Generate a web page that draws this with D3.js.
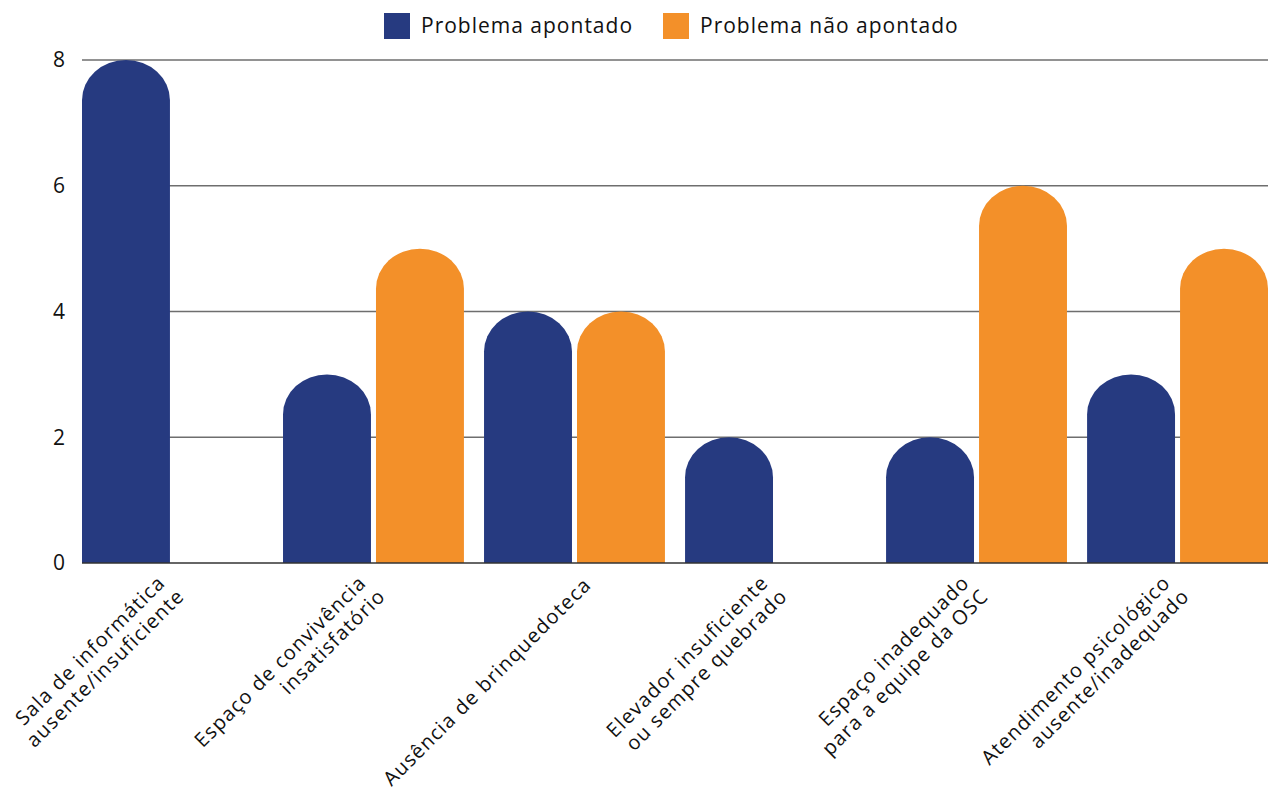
<!DOCTYPE html>
<html>
<head>
<meta charset="utf-8">
<script src="https://cdn.jsdelivr.net/npm/d3@7"></script>
<style>
  html, body { margin: 0; padding: 0; background: #ffffff; }
  svg { display: block; font-family: "Open Sans", "Noto Sans", sans-serif; }
</style>
</head>
<body>
<svg id="chart" width="1269" height="794"></svg>
<script>
const categories = [
  ["Sala de informática", "ausente/insuficiente"],
  ["Espaço de convivência", "insatisfatório"],
  ["Ausência de brinquedoteca"],
  ["Elevador insuficiente", "ou sempre quebrado"],
  ["Espaço inadequado", "para a equipe da OSC"],
  ["Atendimento psicológico", "ausente/inadequado"]
];
const seriesNames = ["Problema apontado", "Problema não apontado"];
const apontado = [8, 3, 4, 2, 2, 3];
const naoApontado = [0, 5, 4, 0, 6, 5];
const yTicks = [0, 2, 4, 6, 8];
const colors = ["#263A80", "#F39029"];

const svg = d3.select("#chart");
const mLeft = 82, mRight = 1268, mTop = 60, mBottom = 563;

const catKeys = categories.map(c => c.join(" "));
const x0 = d3.scaleBand().domain(catKeys).range([mLeft, mRight]).paddingInner(0.1).paddingOuter(0);
const x1 = d3.scaleBand().domain(seriesNames).range([0, x0.bandwidth()]).paddingInner(0.054).paddingOuter(0);
const y = d3.scaleLinear().domain([0, 8]).range([mBottom, mTop]);

// gridlines
svg.append("g").selectAll("line").data(yTicks.filter(t => t > 0)).join("line")
  .attr("x1", mLeft).attr("x2", mRight)
  .attr("y1", d => y(d)).attr("y2", d => y(d))
  .attr("stroke", "#6e6e6e").attr("stroke-width", 1.3);

// y axis labels
svg.append("g").selectAll("text").data(yTicks).join("text")
  .attr("x", 59).attr("y", d => y(d))
  .attr("dy", "0.35em")
  .attr("text-anchor", "middle")
  .attr("font-size", 21)
  .attr("fill", "#111")
  .text(d => d);

// bars
const rows = catKeys.map((k, i) => ({ key: k, values: [apontado[i], naoApontado[i]] }));
const ry = 40;
function barPath(x, w, v) {
  const yt = y(v), yb = y(0);
  const rx = w / 2;
  const r = Math.min(ry, yb - yt);
  return `M${x},${yb} L${x},${yt + r} A${rx},${r} 0 0 1 ${x + w},${yt + r} L${x + w},${yb} Z`;
}
const groups = svg.append("g").selectAll("g").data(rows).join("g")
  .attr("transform", d => `translate(${x0(d.key)},0)`);
groups.selectAll("path")
  .data(d => d.values.map((v, j) => ({ v, s: seriesNames[j], j })).filter(e => e.v > 0))
  .join("path")
  .attr("d", e => barPath(x1(e.s), x1.bandwidth(), e.v))
  .attr("fill", e => colors[e.j]);

// baseline
svg.append("line").attr("x1", mLeft).attr("x2", mRight).attr("y1", y(0)).attr("y2", y(0))
  .attr("stroke", "#333").attr("stroke-width", 1.3);

// x labels (rotated -45, right-aligned)
const lh = 23;
const labelG = svg.append("g").selectAll("g").data(categories).join("g")
  .attr("transform", (d, i) => {
    const cx = x0(catKeys[i]) + x0.bandwidth() / 2;
    const p = d.length === 1 ? [cx + 18, mBottom + 23] : [cx - 6, mBottom + 21];
    return `translate(${p[0]},${p[1]}) rotate(-45)`;
  });
labelG.each(function(lines) {
  const g = d3.select(this);
  lines.forEach((t, k) => {
    g.append("text")
      .attr("x", k * 4)
      .attr("y", k * lh)
      .attr("text-anchor", "end")
      .attr("font-size", 20)
      .attr("letter-spacing", 1.2)
      .attr("fill", "#111")
      .text(t);
  });
});

// legend
const legend = svg.append("g");
const legendItems = [
  { name: seriesNames[0], x: 384, color: colors[0] },
  { name: seriesNames[1], x: 663, color: colors[1] }
];
legendItems.forEach(it => {
  legend.append("rect").attr("x", it.x).attr("y", 13).attr("width", 26).attr("height", 26).attr("fill", it.color);
  legend.append("text").attr("x", it.x + 37).attr("y", 26).attr("dy", "0.35em")
    .attr("font-size", 21).attr("letter-spacing", 1).attr("fill", "#111").text(it.name);
});
</script>
</body>
</html>
